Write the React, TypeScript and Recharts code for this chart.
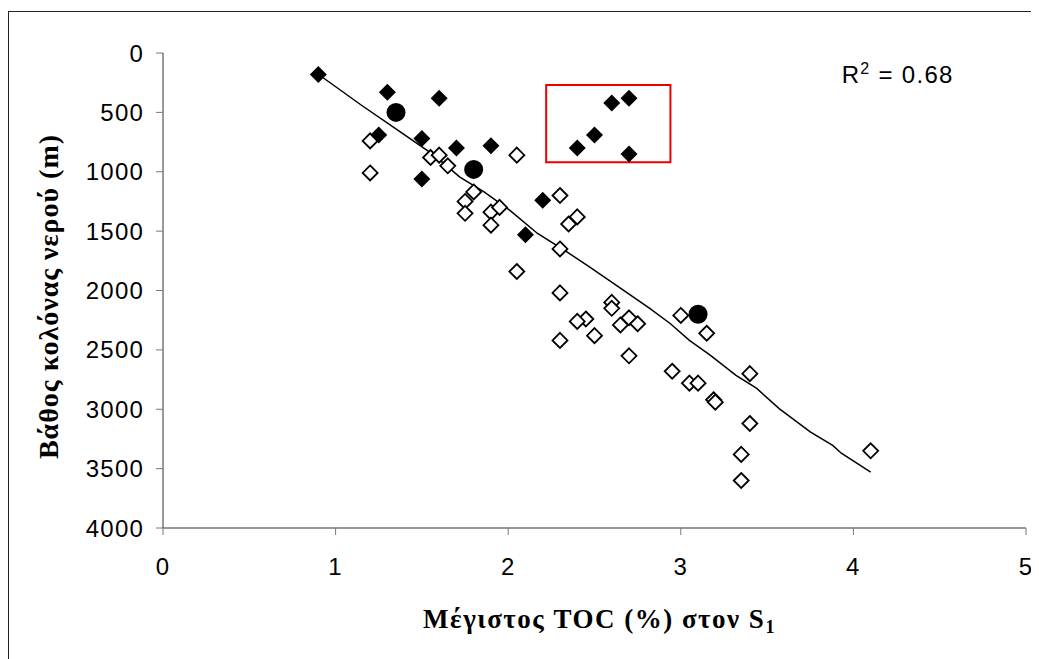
import {
  ScatterChart, Scatter, XAxis, YAxis, ReferenceArea, Label
} from 'recharts'

// samples with maximum TOC (%) vs water column depth (m)
const openPoints: [number, number][] = [
  [1.2, 740], [1.2, 1010], [1.55, 880], [1.6, 860], [1.65, 950], [2.05, 860],
  [1.8, 1170], [1.75, 1250], [1.75, 1350], [1.9, 1340], [1.95, 1300], [1.9, 1450],
  [2.05, 1840], [2.3, 1200], [2.4, 1380], [2.35, 1440], [2.3, 1650], [2.3, 2020],
  [2.6, 2100], [2.6, 2150], [3.0, 2210], [3.15, 2360], [2.7, 2230], [2.75, 2280],
  [2.65, 2290], [2.45, 2240], [2.4, 2260], [2.5, 2380], [2.3, 2420], [2.7, 2550],
  [2.95, 2680], [3.05, 2780], [3.1, 2780], [3.19, 2920], [3.2, 2940], [3.4, 2700],
  [3.4, 3120], [3.35, 3380], [3.35, 3600], [4.1, 3350],
]

const filledDiamonds: [number, number][] = [
  [0.9, 180], [1.3, 330], [1.6, 380], [1.25, 690], [1.5, 720], [1.7, 800],
  [1.9, 780], [1.5, 1060], [2.2, 1240], [2.1, 1530],
  [2.7, 380], [2.6, 420], [2.5, 690], [2.4, 800], [2.7, 850],
]

const filledCircles: [number, number][] = [
  [1.35, 500], [1.8, 980], [3.1, 2200],
]

// trend line
const trendLine: [number, number][] = [
  [0.92, 200], [1.15, 440], [1.36, 650], [1.57, 860], [1.72, 1045], [1.86, 1170],
  [2.01, 1325], [2.17, 1520], [2.34, 1675], [2.46, 1790], [2.61, 1940], [2.82, 2150],
  [2.94, 2280], [3.05, 2420], [3.17, 2545], [3.32, 2715], [3.44, 2825], [3.57, 2995],
  [3.75, 3190], [3.88, 3305], [3.93, 3370], [4.1, 3530],
]

const xTicks = [0, 1, 2, 3, 4, 5]
const yTicks = [0, 500, 1000, 1500, 2000, 2500, 3000, 3500, 4000]

// highlighted group (red box)
const boxX = [2.22, 2.94]
const boxY = [270, 920]

const toRows = (pts: [number, number][]) => pts.map(([x, y]) => ({ x, y }))

const OpenDiamond = (p: any) => {
  const r = 7.5
  return <path d={`M${p.cx},${p.cy - r}L${p.cx + r},${p.cy}L${p.cx},${p.cy + r}L${p.cx - r},${p.cy}Z`}
    fill="#fff" stroke="#000" strokeWidth={1.8} />
}

const FilledDiamond = (p: any) => {
  const r = 8.5
  return <path d={`M${p.cx},${p.cy - r}L${p.cx + r},${p.cy}L${p.cx},${p.cy + r}L${p.cx - r},${p.cy}Z`} fill="#000" />
}

const FilledCircle = (p: any) => <circle cx={p.cx} cy={p.cy} r={9.5} fill="#000" />

const tickStyle = { fontSize: 24, fill: '#000', fontFamily: 'Liberation Sans, Arial, sans-serif', letterSpacing: 1.2 }
const titleFont = 'Liberation Serif, Times New Roman, serif'

export default function App() {
  return (
    <div style={{ position: 'relative', width: 1031, height: 651, overflow: 'hidden' }}>
      <div style={{
        position: 'absolute', left: 0, top: 3, right: 0, bottom: 0,
        borderTop: '1px solid #222', borderLeft: '1px solid #222'
      }} />
      <ScatterChart width={1031} height={651} margin={{ top: 45, right: 13, bottom: 71, left: 0 }}>
        <XAxis
          type="number" dataKey="x" domain={[0, 5]} ticks={xTicks} height={60}
          axisLine={{ stroke: '#333' }} tickLine={{ stroke: '#777' }}
          tickSize={7} tickMargin={23} tick={tickStyle}
        >
          <Label content={(props: any) => {
            const vb = props.viewBox
            return (
              <text x={vb.x + vb.width / 2 + 5} y={620} textAnchor="middle"
                fontFamily={titleFont} fontWeight="bold" fontSize={27} letterSpacing={1.5} fill="#000">
                Μέγιστος TOC (%) στον S<tspan fontSize={18} dy={5}>1</tspan>
              </text>
            )
          }} />
        </XAxis>
        <YAxis
          type="number" dataKey="y" domain={[0, 4000]} ticks={yTicks} reversed width={155}
          axisLine={{ stroke: '#333' }} tickLine={{ stroke: '#777' }}
          tickSize={7} tickMargin={12} tick={tickStyle}
        >
          <Label content={(props: any) => {
            const vb = props.viewBox
            const cx = 50
            const cy = vb.y + vb.height / 2 + 6
            return (
              <text x={cx} y={cy} textAnchor="middle" transform={`rotate(-90, ${cx}, ${cy})`}
                fontFamily={titleFont} fontWeight="bold" fontSize={28} letterSpacing={1} fill="#000">
                Βάθος κολόνας νερού (m)
              </text>
            )
          }} />
        </YAxis>
        <ReferenceArea x1={boxX[0]} x2={boxX[1]} y1={boxY[0]} y2={boxY[1]}
          fill="none" fillOpacity={0} stroke="#ee0000" strokeWidth={2} />
        <Scatter data={toRows(trendLine)} line={{ stroke: '#000', strokeWidth: 1.5 }}
          shape={() => <g />} isAnimationActive={false} />
        <Scatter data={toRows(openPoints)} shape={OpenDiamond} isAnimationActive={false} />
        <Scatter data={toRows(filledDiamonds)} shape={FilledDiamond} isAnimationActive={false} />
        <Scatter data={toRows(filledCircles)} shape={FilledCircle} isAnimationActive={false} />
      </ScatterChart>
      <div style={{
        position: 'absolute', left: 833.7, top: 54.7, lineHeight: '24px', whiteSpace: 'nowrap',
        fontFamily: 'Liberation Sans, Arial, sans-serif', fontSize: 24, letterSpacing: 1.3, color: '#000'
      }}>
        R<span style={{ fontSize: 16, position: 'relative', top: -9 }}>2</span> = 0.68
      </div>
    </div>
  )
}
